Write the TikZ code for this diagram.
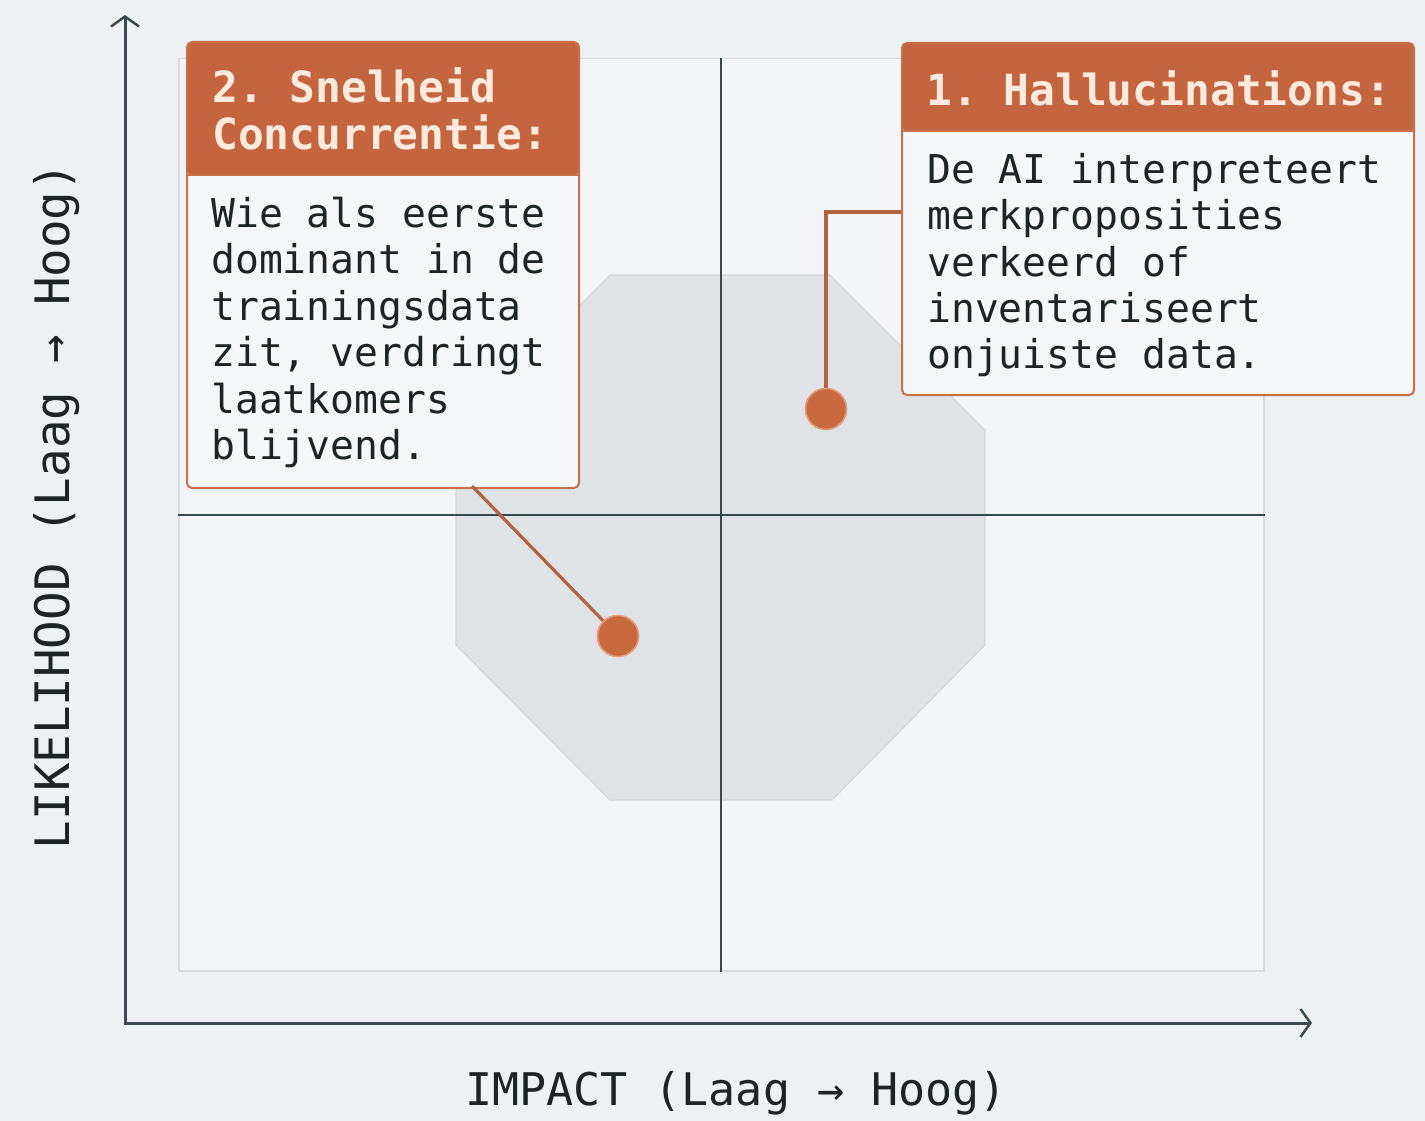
\documentclass[tikz,border=0pt]{standalone}
\usepackage{fontspec}
\setmonofont{DejaVu Sans Mono}
\usetikzlibrary{arrows.meta}
\definecolor{bg}{HTML}{EEF1F3}
\definecolor{plotfill}{HTML}{F3F5F6}
\definecolor{plotline}{HTML}{D6DBDE}
\definecolor{octfill}{HTML}{DFE3E6}
\definecolor{octline}{HTML}{D3D8DB}
\definecolor{divc}{HTML}{3A474D}
\definecolor{axisc}{HTML}{3E4A50}
\definecolor{hdr}{HTML}{C4653F}
\definecolor{hdrtxt}{HTML}{FCEBDD}
\definecolor{cardfill}{HTML}{F4F6F7}
\definecolor{cardline}{HTML}{C9704A}
\definecolor{ink}{HTML}{1E2326}
\definecolor{connc}{HTML}{B5633F}
\definecolor{dotc}{HTML}{C8683F}
\definecolor{dotring}{HTML}{E59C7C}
\tikzset{
  plotarea/.style={draw=plotline, line width=1.5pt, fill=plotfill, inner sep=0pt},
  card/.style={draw=cardline, line width=2pt, fill=cardfill, rounded corners=5pt, inner sep=0pt},
  hdrtext/.style={font=\ttfamily\bfseries\fontsize{42.9}{47}\selectfont, text=hdrtxt, align=left, anchor=north west, inner sep=0pt},
  bodytext/.style={font=\ttfamily\fontsize{39.7}{46.4}\selectfont, text=ink, align=left, anchor=north west, inner sep=0pt},
  conn/.style={draw=connc, line width=3.2pt},
  dotmark/.style={circle, fill=dotc, draw=dotring, line width=1.5pt, minimum size=41pt, inner sep=0pt},
  divider/.style={draw=divc, line width=2pt},
  axis/.style={draw=axisc, line width=3pt},
  axlabel/.style={font=\ttfamily\fontsize{45}{50}\selectfont, text=ink, inner sep=0pt},
}
\begin{document}
\begin{tikzpicture}[x=1pt,y=-1pt]
\fill[bg] (0,0) rectangle (1425,1121);
\useasboundingbox (0,0) rectangle (1425,1121);
% plot area
\node[plotarea, minimum width=1085pt, minimum height=912pt, anchor=north west] (plot) at (178,58) {};
% octagon risk zone
\filldraw[fill=octfill, draw=octline, line width=1.2pt] (610,275) -- (830,275) -- (985,430) -- (985,645) -- (832,800) -- (610,800) -- (456,645) -- (456,430) -- cycle;
% dividers
\draw[divider] (plot.north) -- (plot.south);
\draw[divider] (plot.west) -- (plot.east);
% connectors
\node[dotmark] (d1) at (826,409) {};
\node[dotmark] (d2) at (618,636) {};
\coordinate (k1) at (826,212);
\coordinate (k2) at (472,486);
% cards
\node[card, minimum width=392pt, minimum height=446pt, anchor=north west,
  path picture={\fill[hdr] (path picture bounding box.north west) rectangle ([yshift=-133pt]path picture bounding box.north east);
  \draw[cardline, line width=2pt] ([yshift=-133pt]path picture bounding box.north west) -- ([yshift=-133pt]path picture bounding box.north east);}] (card2) at (186,41) {};
\node[card, minimum width=512pt, minimum height=352pt, anchor=north west,
  path picture={\fill[hdr] (path picture bounding box.north west) rectangle ([yshift=-88pt]path picture bounding box.north east);
  \draw[cardline, line width=2pt] ([yshift=-88pt]path picture bounding box.north west) -- ([yshift=-88pt]path picture bounding box.north east);}] (card1) at (901,42) {};
\draw[conn] (d1) -- (k1) -- (k1 -| card1.west);
\draw[conn] (k2) -- (d2);
\node[dotmark] at (d1) {};
\node[dotmark] at (d2) {};
% card texts
\node[hdrtext] (h2) at (212,67) {2. Snelheid\\Concurrentie:};
\node[bodytext] (b2) at (211,197) {Wie als eerste\\dominant in de\\trainingsdata\\zit, verdringt\\laatkomers\\blijvend.};
\node[hdrtext] (h1) at (926,70) {1. Hallucinations:};
\node[bodytext] (b1) at (927,153) {De AI interpreteert\\merkproposities\\verkeerd of\\inventariseert\\onjuiste data.};
% axes
\coordinate (O) at (125,1023);
\coordinate (ytop) at (125,15);
\coordinate (xend) at (1312,1023);
\draw[axis, {Straight Barb[length=10pt,width=28pt,line width=2.5pt]}-{Straight Barb[length=10pt,width=28pt,line width=2.5pt]}] (ytop) -- (O) -- (xend);
\node[axlabel] (xl) at (736,1093) {IMPACT (Laag → Hoog)};
\node[axlabel, rotate=90, font=\ttfamily\fontsize{47.5}{52}\selectfont] (yl) at (57,506) {LIKELIHOOD (Laag → Hoog)};
\end{tikzpicture}
\end{document}
